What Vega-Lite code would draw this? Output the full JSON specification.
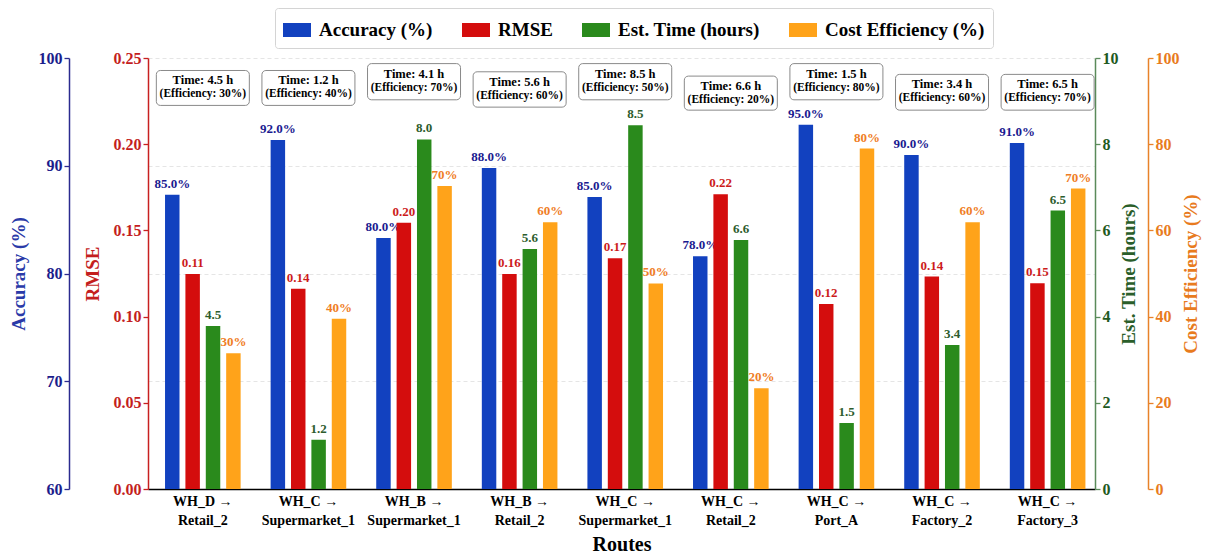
{
  "$schema": "https://vega.github.io/schema/vega-lite/v6.json",
  "width": 947,
  "height": 431,
  "autosize": {"type": "none"},
  "padding": {"left": 148, "top": 58, "right": 110, "bottom": 67},
  "background": "white",
  "config": {
    "view": {"stroke": null},
    "font": "Liberation Serif",
    "text": {"font": "Liberation Serif", "fontWeight": "bold"},
    "axis": {"labelFont": "Liberation Serif", "titleFont": "Liberation Serif", "labelFontWeight": "bold", "titleFontWeight": "bold"},
    "legend": {"labelFont": "Liberation Serif", "labelFontWeight": "bold"}
  },
  "datasets": {
    "bars": [
      {"route": "1|WH_D →|Retail_2", "metric": "Accuracy (%)", "value": 87.3, "label": "85.0%"},
      {"route": "2|WH_C →|Supermarket_1", "metric": "Accuracy (%)", "value": 92.4, "label": "92.0%"},
      {"route": "3|WH_B →|Supermarket_1", "metric": "Accuracy (%)", "value": 83.3, "label": "80.0%"},
      {"route": "4|WH_B →|Retail_2", "metric": "Accuracy (%)", "value": 89.8, "label": "88.0%"},
      {"route": "5|WH_C →|Supermarket_1", "metric": "Accuracy (%)", "value": 87.1, "label": "85.0%"},
      {"route": "6|WH_C →|Retail_2", "metric": "Accuracy (%)", "value": 81.6, "label": "78.0%"},
      {"route": "7|WH_C →|Port_A", "metric": "Accuracy (%)", "value": 93.8, "label": "95.0%"},
      {"route": "8|WH_C →|Factory_2", "metric": "Accuracy (%)", "value": 91.0, "label": "90.0%"},
      {"route": "9|WH_C →|Factory_3", "metric": "Accuracy (%)", "value": 92.1, "label": "91.0%"},
      {"route": "1|WH_D →|Retail_2", "metric": "RMSE", "value": 0.1247, "label": "0.11"},
      {"route": "2|WH_C →|Supermarket_1", "metric": "RMSE", "value": 0.1162, "label": "0.14"},
      {"route": "3|WH_B →|Supermarket_1", "metric": "RMSE", "value": 0.1544, "label": "0.20"},
      {"route": "4|WH_B →|Retail_2", "metric": "RMSE", "value": 0.1247, "label": "0.16"},
      {"route": "5|WH_C →|Supermarket_1", "metric": "RMSE", "value": 0.1338, "label": "0.17"},
      {"route": "6|WH_C →|Retail_2", "metric": "RMSE", "value": 0.171, "label": "0.22"},
      {"route": "7|WH_C →|Port_A", "metric": "RMSE", "value": 0.1073, "label": "0.12"},
      {"route": "8|WH_C →|Factory_2", "metric": "RMSE", "value": 0.1232, "label": "0.14"},
      {"route": "9|WH_C →|Factory_3", "metric": "RMSE", "value": 0.1193, "label": "0.15"},
      {"route": "1|WH_D →|Retail_2", "metric": "Est. Time (hours)", "value": 3.78, "label": "4.5"},
      {"route": "2|WH_C →|Supermarket_1", "metric": "Est. Time (hours)", "value": 1.14, "label": "1.2"},
      {"route": "3|WH_B →|Supermarket_1", "metric": "Est. Time (hours)", "value": 8.11, "label": "8.0"},
      {"route": "4|WH_B →|Retail_2", "metric": "Est. Time (hours)", "value": 5.57, "label": "5.6"},
      {"route": "5|WH_C →|Supermarket_1", "metric": "Est. Time (hours)", "value": 8.44, "label": "8.5"},
      {"route": "6|WH_C →|Retail_2", "metric": "Est. Time (hours)", "value": 5.78, "label": "6.6"},
      {"route": "7|WH_C →|Port_A", "metric": "Est. Time (hours)", "value": 1.53, "label": "1.5"},
      {"route": "8|WH_C →|Factory_2", "metric": "Est. Time (hours)", "value": 3.34, "label": "3.4"},
      {"route": "9|WH_C →|Factory_3", "metric": "Est. Time (hours)", "value": 6.46, "label": "6.5"},
      {"route": "1|WH_D →|Retail_2", "metric": "Cost Efficiency (%)", "value": 31.5, "label": "30%"},
      {"route": "2|WH_C →|Supermarket_1", "metric": "Cost Efficiency (%)", "value": 39.5, "label": "40%"},
      {"route": "3|WH_B →|Supermarket_1", "metric": "Cost Efficiency (%)", "value": 70.3, "label": "70%"},
      {"route": "4|WH_B →|Retail_2", "metric": "Cost Efficiency (%)", "value": 61.9, "label": "60%"},
      {"route": "5|WH_C →|Supermarket_1", "metric": "Cost Efficiency (%)", "value": 47.7, "label": "50%"},
      {"route": "6|WH_C →|Retail_2", "metric": "Cost Efficiency (%)", "value": 23.4, "label": "20%"},
      {"route": "7|WH_C →|Port_A", "metric": "Cost Efficiency (%)", "value": 79.0, "label": "80%"},
      {"route": "8|WH_C →|Factory_2", "metric": "Cost Efficiency (%)", "value": 61.9, "label": "60%"},
      {"route": "9|WH_C →|Factory_3", "metric": "Cost Efficiency (%)", "value": 69.7, "label": "70%"}
    ],
    "notes": [
      {"route": "1|WH_D →|Retail_2", "timeText": "Time: 4.5 h", "effText": "(Efficiency: 30%)", "boxTop": 97.1, "boxBottom": 89.0},
      {"route": "2|WH_C →|Supermarket_1", "timeText": "Time: 1.2 h", "effText": "(Efficiency: 40%)", "boxTop": 97.1, "boxBottom": 89.0},
      {"route": "3|WH_B →|Supermarket_1", "timeText": "Time: 4.1 h", "effText": "(Efficiency: 70%)", "boxTop": 98.7, "boxBottom": 90.3},
      {"route": "4|WH_B →|Retail_2", "timeText": "Time: 5.6 h", "effText": "(Efficiency: 60%)", "boxTop": 96.8, "boxBottom": 88.6},
      {"route": "5|WH_C →|Supermarket_1", "timeText": "Time: 8.5 h", "effText": "(Efficiency: 50%)", "boxTop": 98.7, "boxBottom": 90.3},
      {"route": "6|WH_C →|Retail_2", "timeText": "Time: 6.6 h", "effText": "(Efficiency: 20%)", "boxTop": 95.8, "boxBottom": 87.9},
      {"route": "7|WH_C →|Port_A", "timeText": "Time: 1.5 h", "effText": "(Efficiency: 80%)", "boxTop": 98.7, "boxBottom": 90.3},
      {"route": "8|WH_C →|Factory_2", "timeText": "Time: 3.4 h", "effText": "(Efficiency: 60%)", "boxTop": 96.2, "boxBottom": 87.9},
      {"route": "9|WH_C →|Factory_3", "timeText": "Time: 6.5 h", "effText": "(Efficiency: 70%)", "boxTop": 96.2, "boxBottom": 87.9}
    ]
  },
  "data": {"name": "bars"},
  "encoding": {
    "x": {
      "field": "route", "type": "nominal", "sort": "ascending",
      "scale": {"paddingInner": 0.284, "paddingOuter": 0.126, "align": 0.64},
      "title": "Routes",
      "axis": {
        "labelExpr": "slice(split(datum.value, '|'), 1)",
        "labelAngle": 0, "labelFontSize": 14, "labelColor": "black", "labelLineHeight": 19,
        "labelPadding": 5, "ticks": false, "domainColor": "black", "domainWidth": 1.3,
        "titleFontSize": 20, "titleColor": "black", "titlePadding": 7
      }
    }
  },
  "layer": [
    {
      "transform": [{"filter": "datum.metric === 'Accuracy (%)'"}],
      "encoding": {
        "y": {
          "field": "value", "type": "quantitative", "stack": null,
          "scale": {"domain": [60, 100], "zero": false, "nice": false},
          "axis": {
            "orient": "left", "offset": 79, "values": [60, 70, 80, 90, 100],
            "grid": true, "gridColor": "#dedede", "gridDash": [4, 3], "gridWidth": 0.8,
            "domainColor": "#2b2b8f", "domainWidth": 1.5, "tickColor": "#2b2b8f", "tickSize": 5, "tickWidth": 1.3,
            "labelColor": "#1c1c8c", "labelFontSize": 16,
            "title": "Accuracy (%)", "titleColor": "#2a3aa8", "titleFontSize": 19,
            "titleX": -51, "titleBaseline": "middle"
          }
        },
        "xOffset": {"field": "metric", "type": "nominal", "scale": {"domain": ["Accuracy (%)", "RMSE", "Est. Time (hours)", "Cost Efficiency (%)"], "paddingInner": 0.29, "paddingOuter": 0}}
      },
      "layer": [
        {
          "mark": {"type": "bar"},
          "encoding": {
            "y2": {"datum": 60},
            "color": {
              "field": "metric", "type": "nominal",
              "scale": {"domain": ["Accuracy (%)", "RMSE", "Est. Time (hours)", "Cost Efficiency (%)"], "range": ["#1241bf", "#d40d0d", "#2a8a1c", "#ffa31a"]},
              "legend": {
                "orient": "none", "legendX": 127, "legendY": -50, "direction": "horizontal", "title": null,
                "symbolType": "M-1,-0.5H1V0.5H-1Z", "symbolSize": 784, "symbolStrokeWidth": 0, "symbolOpacity": 1,
                "labelFontSize": 19, "labelColor": "black", "labelOffset": 8, "columnPadding": 29,
                "strokeColor": "#d4d4d4", "fillColor": "white", "padding": 8, "cornerRadius": 3
              }
            }
          }
        },
        {
          "mark": {"type": "text", "baseline": "bottom", "dy": -4, "fontSize": 13, "color": "#1a1a90"},
          "encoding": {"text": {"field": "label"}}
        }
      ]
    },
    {
      "transform": [{"filter": "datum.metric === 'RMSE'"}],
      "encoding": {
        "y": {
          "field": "value", "type": "quantitative", "stack": null,
          "scale": {"domain": [0, 0.25], "nice": false},
          "axis": {
            "orient": "left", "offset": 0, "values": [0, 0.05, 0.1, 0.15, 0.2, 0.25], "format": ".2f",
            "grid": false, "domainColor": "#c82020", "domainWidth": 1.5, "tickColor": "#c82020", "tickSize": 5, "tickWidth": 1.3,
            "labelColor": "#c41e1e", "labelFontSize": 16,
            "title": "RMSE", "titleColor": "#c41e1e", "titleFontSize": 19,
            "titleX": -56, "titleBaseline": "middle"
          }
        },
        "xOffset": {"field": "metric", "type": "nominal"}
      },
      "layer": [
        {"mark": {"type": "bar"}, "encoding": {"color": {"field": "metric", "type": "nominal"}}},
        {
          "mark": {"type": "text", "baseline": "bottom", "dy": -4, "fontSize": 13, "color": "#cc1b1b"},
          "encoding": {"text": {"field": "label"}}
        }
      ]
    },
    {
      "transform": [{"filter": "datum.metric === 'Est. Time (hours)'"}],
      "encoding": {
        "y": {
          "field": "value", "type": "quantitative", "stack": null,
          "scale": {"domain": [0, 10], "nice": false},
          "axis": {
            "orient": "right", "offset": 0, "values": [0, 2, 4, 6, 8, 10],
            "grid": false, "domainColor": "#5a8a5a", "domainWidth": 1.5, "tickColor": "#5a8a5a", "tickSize": 5, "tickWidth": 1.3,
            "labelColor": "#1f5a1f", "labelFontSize": 16,
            "title": "Est. Time (hours)", "titleColor": "#2a5e2a", "titleFontSize": 19,
            "titleX": 33, "titleAngle": 270, "titleBaseline": "middle"
          }
        },
        "xOffset": {"field": "metric", "type": "nominal"}
      },
      "layer": [
        {"mark": {"type": "bar"}, "encoding": {"color": {"field": "metric", "type": "nominal"}}},
        {
          "mark": {"type": "text", "baseline": "bottom", "dy": -4, "fontSize": 13, "color": "#2d5c2d"},
          "encoding": {"text": {"field": "label"}}
        }
      ]
    },
    {
      "encoding": {
        "y": {
          "type": "quantitative",
          "scale": {"domain": [0, 100], "nice": false},
          "axis": {
            "orient": "right", "offset": 53, "values": [0, 20, 40, 60, 80, 100],
            "grid": false, "domainColor": "#e8822a", "domainWidth": 1.5, "tickColor": "#e8822a", "tickSize": 5, "tickWidth": 1.3,
            "labelColor": "#e87b1e", "labelFontSize": 16,
            "title": "Cost Efficiency (%)", "titleColor": "#e87b1e", "titleFontSize": 19,
            "titleX": 42, "titleAngle": 270, "titleBaseline": "middle"
          }
        }
      },
      "layer": [
        {
          "transform": [{"filter": "datum.metric === 'Cost Efficiency (%)'"}],
          "encoding": {
            "y": {
              "field": "value", "type": "quantitative", "stack": null,
              "scale": {"domain": [0, 100], "nice": false},
              "axis": {
                "orient": "right", "offset": 53, "values": [0, 20, 40, 60, 80, 100],
                "grid": false, "domainColor": "#e8822a", "domainWidth": 1.5, "tickColor": "#e8822a", "tickSize": 5, "tickWidth": 1.3,
                "labelColor": "#e87b1e", "labelFontSize": 16,
                "title": "Cost Efficiency (%)", "titleColor": "#e87b1e", "titleFontSize": 19,
                "titleX": 42, "titleAngle": 270, "titleBaseline": "middle"
              }
            },
            "xOffset": {"field": "metric", "type": "nominal"}
          },
          "layer": [
            {"mark": {"type": "bar"}, "encoding": {"color": {"field": "metric", "type": "nominal"}}},
            {
              "mark": {"type": "text", "baseline": "bottom", "dy": -4, "fontSize": 13, "color": "#ef7d25"},
              "encoding": {"text": {"field": "label"}}
            }
          ]
        },
        {
          "data": {"name": "notes"},
          "layer": [
            {
              "mark": {"type": "bar", "width": 93, "cornerRadius": 4, "fill": "white", "stroke": "#8a8a8a", "strokeWidth": 1},
              "encoding": {
                "y": {"field": "boxTop", "type": "quantitative", "title": "Cost Efficiency (%)"},
                "y2": {"field": "boxBottom"}
              }
            },
            {
              "mark": {"type": "text", "baseline": "middle", "dy": 10, "fontSize": 12.5, "color": "black"},
              "encoding": {
                "y": {"field": "boxTop", "type": "quantitative", "title": "Cost Efficiency (%)"},
                "text": {"field": "timeText"}
              }
            },
            {
              "mark": {"type": "text", "baseline": "middle", "dy": 24, "fontSize": 11.5, "color": "black"},
              "encoding": {
                "y": {"field": "boxTop", "type": "quantitative", "title": "Cost Efficiency (%)"},
                "text": {"field": "effText"}
              }
            }
          ]
        }
      ]
    }
  ],
  "resolve": {"scale": {"y": "independent"}}
}
